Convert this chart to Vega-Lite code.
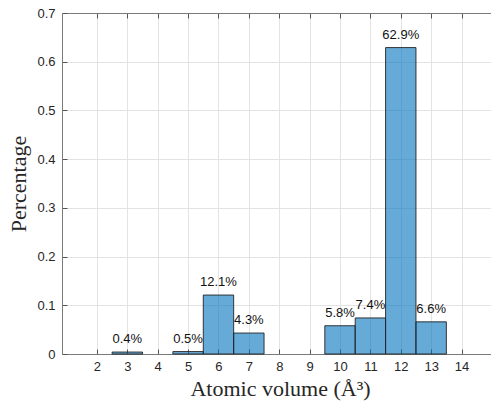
{
  "$schema": "https://vega.github.io/schema/vega-lite/v6.json",
  "width": 436,
  "height": 341,
  "autosize": "none",
  "padding": {"left": 62, "top": 13, "right": 0, "bottom": 48},
  "background": "white",
  "config": {
    "view": {"stroke": null},
    "axis": {
      "labelFont": "Liberation Sans",
      "labelFontSize": 13,
      "labelColor": "#262626",
      "domainColor": "#7a7a7a",
      "domainWidth": 1,
      "tickColor": "#555555",
      "tickWidth": 1,
      "gridColor": "#e3e3e3",
      "gridWidth": 1,
      "titleFont": "Liberation Serif",
      "titleFontWeight": "normal",
      "titleFontSize": 22,
      "titleColor": "#262626"
    }
  },
  "data": {
    "values": [
      {"v": 3, "lo": 2.5, "hi": 3.5, "p": 0.004, "lab": "0.4%"},
      {"v": 5, "lo": 4.5, "hi": 5.5, "p": 0.005, "lab": "0.5%"},
      {"v": 6, "lo": 5.5, "hi": 6.5, "p": 0.121, "lab": "12.1%"},
      {"v": 7, "lo": 6.5, "hi": 7.5, "p": 0.043, "lab": "4.3%"},
      {"v": 10, "lo": 9.5, "hi": 10.5, "p": 0.058, "lab": "5.8%"},
      {"v": 11, "lo": 10.5, "hi": 11.5, "p": 0.074, "lab": "7.4%"},
      {"v": 12, "lo": 11.5, "hi": 12.5, "p": 0.629, "lab": "62.9%"},
      {"v": 13, "lo": 12.5, "hi": 13.5, "p": 0.066, "lab": "6.6%"}
    ]
  },
  "layer": [
    {
      "mark": {"type": "bar", "fill": "#0072BD", "fillOpacity": 0.6, "stroke": "#222222", "strokeWidth": 1, "strokeOpacity": 0.9},
      "encoding": {
        "x": {
          "field": "lo", "type": "quantitative",
          "scale": {"domain": [0.85, 15.2], "nice": false, "zero": false},
          "axis": {
            "orient": "bottom", "values": [2,3,4,5,6,7,8,9,10,11,12,13,14],
            "grid": true, "tickSize": -5, "labelPadding": 11,
            "title": "Atomic volume (Å³)", "titlePadding": 5
          }
        },
        "x2": {"field": "hi"},
        "y": {
          "field": "p", "type": "quantitative",
          "scale": {"domain": [0, 0.7], "nice": false},
          "axis": {
            "orient": "left", "values": [0, 0.1, 0.2, 0.3, 0.4, 0.5, 0.6, 0.7],
            "format": "~g", "grid": true, "tickSize": -5, "labelPadding": 12,
            "title": "Percentage", "titlePadding": 6
          }
        },
        "y2": {"datum": 0}
      }
    },
    {
      "mark": {"type": "text", "dy": -6, "baseline": "bottom", "font": "Liberation Sans", "fontSize": 13, "color": "#111111"},
      "encoding": {
        "x": {
          "field": "v", "type": "quantitative",
          "axis": {
            "orient": "top", "values": [2,3,4,5,6,7,8,9,10,11,12,13,14],
            "grid": false, "labels": false, "tickSize": -5, "title": null
          }
        },
        "y": {"field": "p", "type": "quantitative", "axis": null},
        "text": {"field": "lab"}
      }
    }
  ],
  "resolve": {"axis": {"x": "independent", "y": "independent"}}
}
